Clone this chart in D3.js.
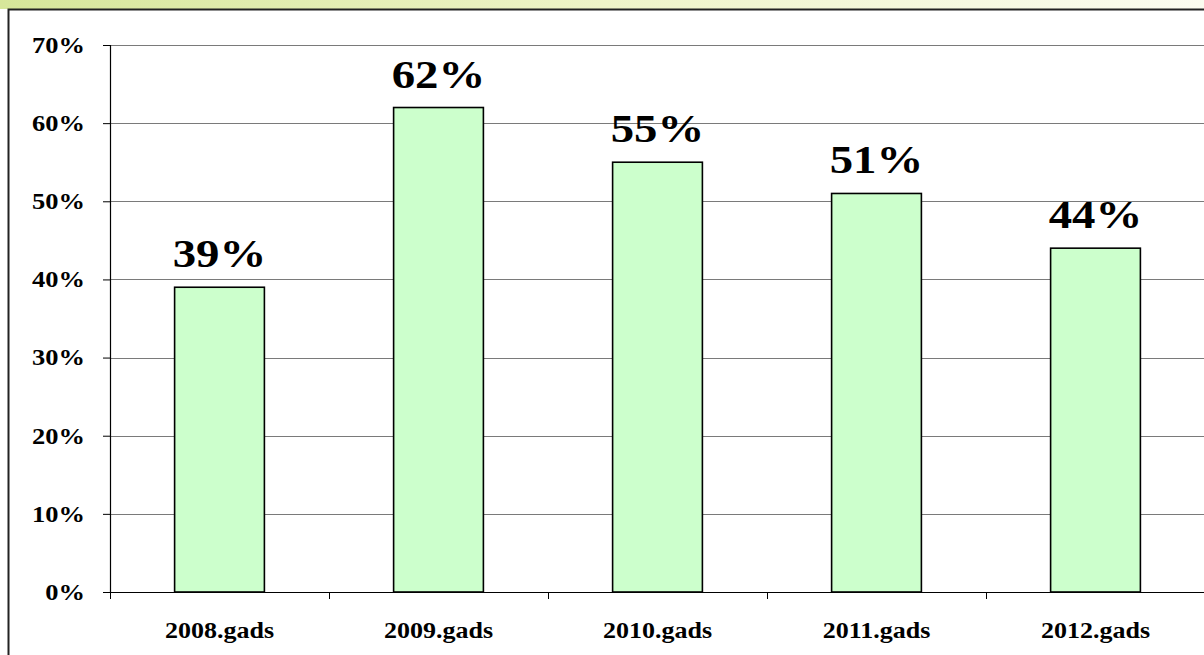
<!DOCTYPE html>
<html><head><meta charset="utf-8">
<script src="https://cdn.jsdelivr.net/npm/d3@7"></script>
<style>html,body{margin:0;padding:0;background:#fff;overflow:hidden}</style>
</head><body>
<svg id="c" width="1204" height="655"></svg>
<script>
const categories = ["2008.gads","2009.gads","2010.gads","2011.gads","2012.gads"];
const values = [39, 62, 55, 51, 44];
const yTicks = [0,10,20,30,40,50,60,70];

const FONT = "'Liberation Serif','Times New Roman',serif";
const svg = d3.select("#c");
const defs = svg.append("defs");
const g0 = defs.append("linearGradient").attr("id","band").attr("x1","0").attr("x2","1");
g0.append("stop").attr("offset","0").attr("stop-color","#d6e69a");
g0.append("stop").attr("offset","0.5").attr("stop-color","#eef4c8");
g0.append("stop").attr("offset","1").attr("stop-color","#fbfcf0");
svg.append("rect").attr("x",0).attr("y",0).attr("width",1204).attr("height",9).attr("fill","url(#band)");

// frame
svg.append("path").attr("d","M8.5,660 V9.5 H1210").attr("fill","none").attr("stroke","#222").attr("stroke-width",2);

const pLeft = 110, pRight = 1205, pTop = 45, pBottom = 592;
const x = d3.scaleBand().domain(categories).range([pLeft, pRight]).paddingInner(0.59).paddingOuter(0.295);
const y = d3.scaleLinear().domain([0,70]).range([pBottom, pTop]);

function stretch(sel, k){
  sel.each(function(){
    const w = this.getComputedTextLength();
    d3.select(this).attr("textLength", w*k).attr("lengthAdjust","spacingAndGlyphs");
  });
}

// gridlines
svg.append("g").selectAll("line").data(yTicks.filter(d=>d>0)).join("line")
  .attr("x1",pLeft).attr("x2",1204).attr("y1",d=>Math.round(y(d))+0.5).attr("y2",d=>Math.round(y(d))+0.5)
  .attr("stroke","#7a7a7a").attr("stroke-width",1.2);

// bars
svg.append("g").selectAll("rect").data(values).join("rect")
  .attr("x",(d,i)=>x(categories[i])).attr("width",x.bandwidth())
  .attr("y",d=>y(d)).attr("height",d=>pBottom-y(d))
  .attr("fill","#ccffcc").attr("stroke","#000").attr("stroke-width",1.6);

// y axis
const ya = d3.axisLeft(y).tickValues(yTicks).tickFormat(d=>d+"%").tickSize(7).tickPadding(18);
const yg = svg.append("g").attr("transform",`translate(${pLeft},0)`).call(ya);
yg.select(".domain").attr("stroke","#000").attr("stroke-width",1.2);
yg.selectAll(".tick line").attr("stroke","#000");
yg.selectAll("text").attr("font-family",FONT).attr("font-weight","bold").attr("font-size",23).attr("fill","#000");
stretch(yg.selectAll("text"), 1.15);

// x axis
const xa = d3.axisBottom(x).tickSize(0).tickPadding(30);
const xg = svg.append("g").attr("transform",`translate(0,${pBottom})`).call(xa);
xg.select(".domain").attr("d",`M${pLeft},0.5H1204`).attr("stroke","#000").attr("stroke-width",1.2);
xg.selectAll("text").attr("font-family",FONT).attr("font-weight","bold").attr("font-size",23).attr("fill","#000");
stretch(xg.selectAll("text"), 1.13);
const step = x.step();
const bounds = d3.range(categories.length+1).map(i=>pLeft + i*step);
svg.append("g").selectAll("line").data(bounds).join("line")
  .attr("x1",d=>Math.round(d)+0.5).attr("x2",d=>Math.round(d)+0.5).attr("y1",pBottom).attr("y2",pBottom+7)
  .attr("stroke","#000").attr("stroke-width",1);

// value labels
const vl = svg.append("g").selectAll("text").data(values).join("text")
  .attr("x",(d,i)=>x(categories[i])+x.bandwidth()/2).attr("y",d=>y(d)-20)
  .attr("text-anchor","middle")
  .attr("font-family",FONT).attr("font-weight","bold").attr("font-size",40)
  .attr("fill","#000").text(d=>d+"%");
stretch(vl, 1.17);
</script>
</body></html>
